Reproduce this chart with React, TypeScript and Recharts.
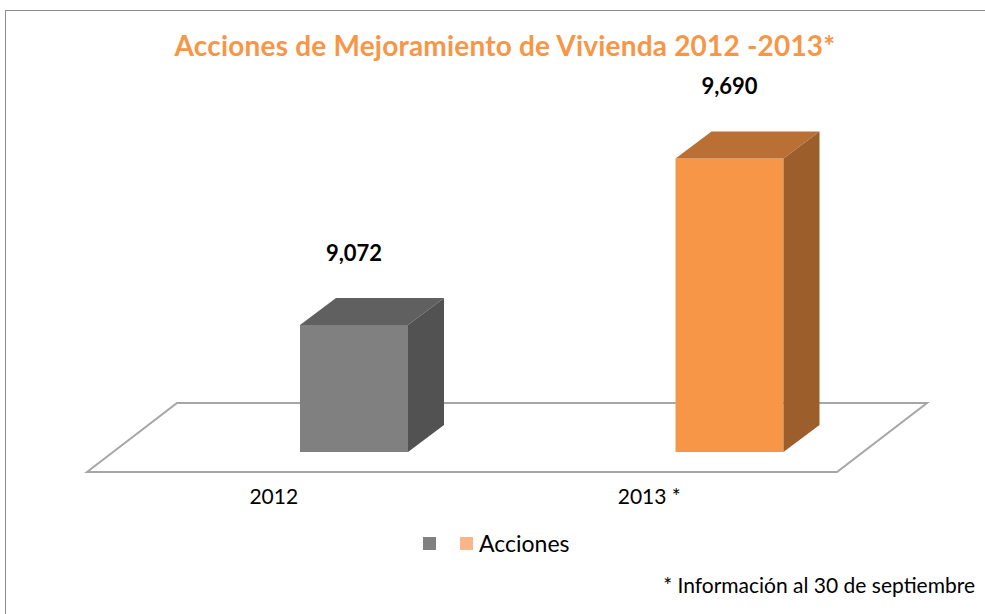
import React from 'react'
import { BarChart, Bar, XAxis, YAxis, Cell, LabelList, ReferenceArea } from 'recharts'

const categories = ['2012', '2013 *']
const acciones = [9072, 9690]
const valueLabels = ['9,072', '9,690']
const yDomain = [8600, 10000]

const frontColors = ['#808080', '#F79646']
const topColors = ['#606060', '#BA7034']
const sideColors = ['#525252', '#9C5F2C']

const chartData = categories.map((year, i) => ({ year, acciones: acciones[i], label: valueLabels[i] }))

const FONT = 'Lato, "Open Sans", sans-serif'
const DEPTH_X = 36
const DEPTH_Y = -27

// 3D box: front face + top + right side
const Box3D = (props: any) => {
  const { x, y, width, height, index } = props
  const w = width
  const h = height
  return (
    <g>
      <rect x={x} y={y} width={w} height={h} fill={frontColors[index]} />
      <polygon
        points={`${x},${y} ${x + DEPTH_X},${y + DEPTH_Y} ${x + w + DEPTH_X},${y + DEPTH_Y} ${x + w},${y}`}
        fill={topColors[index]}
      />
      <polygon
        points={`${x + w},${y} ${x + w + DEPTH_X},${y + DEPTH_Y} ${x + w + DEPTH_X},${y + h + DEPTH_Y} ${x + w},${y + h}`}
        fill={sideColors[index]}
      />
    </g>
  )
}

// floor plane under the bars, placed from the plot area rect
const Floor = (props: any) => {
  const { x, width } = props
  const bottom = props.y + props.height
  const fl = x - 79
  const fr = x + width - 80
  const bl = x + 11
  const br = x + width + 10
  const fy = bottom + 20
  const by = bottom - 49
  return (
    <polygon
      points={`${fl},${fy} ${bl},${by} ${br},${by} ${fr},${fy}`}
      fill="#ffffff"
      stroke="#a6a6a6"
      strokeWidth={2}
    />
  )
}

const YearTick = (props: any) => {
  const { x, y, payload } = props
  return (
    <text x={x - 80} y={y + 44} textAnchor="middle" fontFamily={FONT} fontSize={21} fill="#000">
      {payload.value}
    </text>
  )
}

const ValueLabel = (props: any) => {
  const { x, y, width, value } = props
  return (
    <text x={x + width / 2} y={y - 64} textAnchor="middle" fontFamily={FONT} fontSize={22} fontWeight={700} fill="#000">
      {value}
    </text>
  )
}

export default function App() {
  return (
    <div style={{ position: 'absolute', left: 0, top: 0, width: 985, height: 614, overflow: 'hidden', background: '#fff', fontFamily: FONT }}>
      <div style={{ position: 'absolute', left: 5, top: 10, width: 1100, height: 800, border: '1.5px solid #8c8c8c' }} />
      <div style={{ position: 'absolute', left: 0, top: 28, width: 1010, textAlign: 'center', color: '#F79646', fontSize: 28, fontWeight: 700, letterSpacing: 0.2 }}>
        Acciones de Mejoramiento de Vivienda 2012 -2013*
      </div>
      <div style={{ position: 'absolute', left: 0, top: 0 }}>
        <BarChart width={985} height={614} data={chartData} margin={{ top: 75, right: 68, bottom: 102, left: 166 }}>
          <XAxis dataKey="year" axisLine={false} tickLine={false} height={60} tick={<YearTick />} interval={0} />
          <YAxis hide domain={yDomain} allowDataOverflow />
          <ReferenceArea y1={yDomain[0]} y2={yDomain[1]} ifOverflow="visible" shape={<Floor />} />
          <Bar dataKey="acciones" barSize={108} shape={<Box3D />} isAnimationActive={false}>
            {chartData.map((d, i) => (
              <Cell key={d.year} fill={frontColors[i]} />
            ))}
            <LabelList dataKey="label" content={<ValueLabel />} />
          </Bar>
        </BarChart>
      </div>
      <div style={{ position: 'absolute', left: 423, top: 529, display: 'flex', alignItems: 'center', fontSize: 23, color: '#000' }}>
        <span style={{ display: 'inline-block', width: 13, height: 13, background: '#808080' }} />
        <span style={{ display: 'inline-block', width: 13, height: 13, background: '#FAB58A', marginLeft: 24 }} />
        <span style={{ marginLeft: 6 }}>Acciones</span>
      </div>
      <div style={{ position: 'absolute', right: 10, top: 572, fontSize: 21, color: '#000' }}>
        * Información al 30 de septiembre
      </div>
    </div>
  )
}
